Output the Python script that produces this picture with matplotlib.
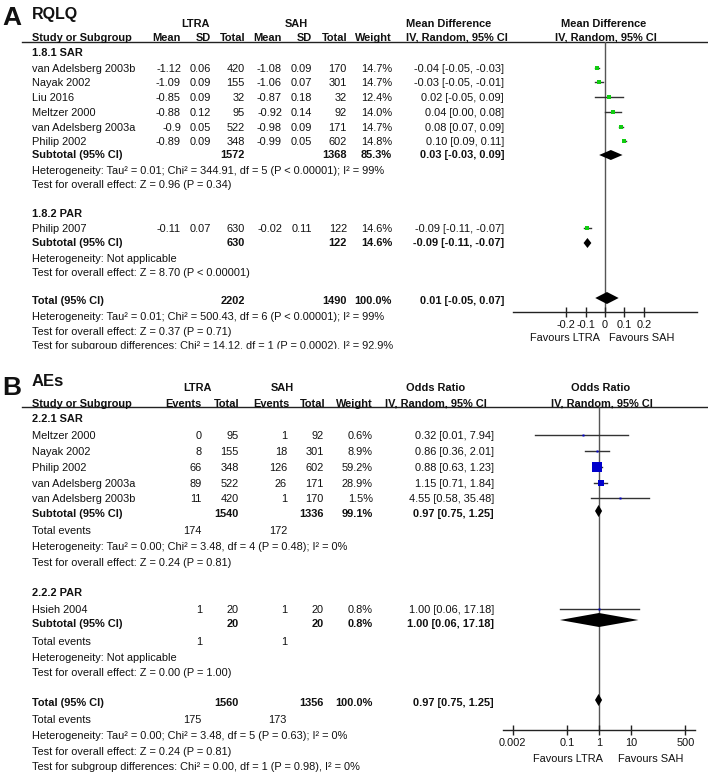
import matplotlib
matplotlib.use('Agg')
import matplotlib.pyplot as plt
import numpy as np
from matplotlib.patches import Rectangle

plt.rcParams['font.family'] = ['Liberation Sans', 'DejaVu Sans']

# ---- panel A: RQLQ, mean difference ----
a_sar_study = ['van Adelsberg 2003b', 'Nayak 2002', 'Liu 2016', 'Meltzer 2000',
               'van Adelsberg 2003a', 'Philip 2002']
a_sar_ltra_mean = ['-1.12', '-1.09', '-0.85', '-0.88', '-0.9', '-0.89']
a_sar_ltra_sd = ['0.06', '0.09', '0.09', '0.12', '0.05', '0.09']
a_sar_ltra_n = [420, 155, 32, 95, 522, 348]
a_sar_sah_mean = ['-1.08', '-1.06', '-0.87', '-0.92', '-0.98', '-0.99']
a_sar_sah_sd = ['0.09', '0.07', '0.18', '0.14', '0.09', '0.05']
a_sar_sah_n = [170, 301, 32, 92, 171, 602]
a_sar_weight = [14.7, 14.7, 12.4, 14.0, 14.7, 14.8]
a_sar_est = [-0.04, -0.03, 0.02, 0.04, 0.08, 0.10]
a_sar_lo = [-0.05, -0.05, -0.05, 0.00, 0.07, 0.09]
a_sar_hi = [-0.03, -0.01, 0.09, 0.08, 0.09, 0.11]
a_sar_sub = (0.03, -0.03, 0.09)

a_par_study = ['Philip 2007']
a_par_ltra_mean = ['-0.11']
a_par_ltra_sd = ['0.07']
a_par_ltra_n = [630]
a_par_sah_mean = ['-0.02']
a_par_sah_sd = ['0.11']
a_par_sah_n = [122]
a_par_weight = [14.6]
a_par_est = [-0.09]
a_par_lo = [-0.11]
a_par_hi = [-0.07]
a_par_sub = (-0.09, -0.11, -0.07)
a_total = (0.01, -0.05, 0.07)

# ---- panel B: AEs, odds ratio ----
b_sar_study = ['Meltzer 2000', 'Nayak 2002', 'Philip 2002', 'van Adelsberg 2003a',
               'van Adelsberg 2003b']
b_sar_ltra_ev = [0, 8, 66, 89, 11]
b_sar_ltra_n = [95, 155, 348, 522, 420]
b_sar_sah_ev = [1, 18, 126, 26, 1]
b_sar_sah_n = [92, 301, 602, 171, 170]
b_sar_weight = [0.6, 8.9, 59.2, 28.9, 1.5]
b_sar_est = [0.32, 0.86, 0.88, 1.15, 4.55]
b_sar_lo = [0.01, 0.36, 0.63, 0.71, 0.58]
b_sar_hi = [7.94, 2.01, 1.23, 1.84, 35.48]
b_sar_sub = (0.97, 0.75, 1.25)

b_par_study = ['Hsieh 2004']
b_par_ltra_ev = [1]
b_par_ltra_n = [20]
b_par_sah_ev = [1]
b_par_sah_n = [20]
b_par_weight = [0.8]
b_par_est = [1.00]
b_par_lo = [0.06]
b_par_hi = [17.18]
b_par_sub = (1.00, 0.06, 17.18)
b_total = (0.97, 0.75, 1.25)

a_ticks = [-0.2, -0.1, 0, 0.1, 0.2]
a_ticklabels = ['-0.2', '-0.1', '0', '0.1', '0.2']
b_ticks = [0.002, 0.1, 1, 10, 500]
b_ticklabels = ['0.002', '0.1', '1', '10', '500']

W, H = 708, 772
FS = 7.95
TXT = '#111111'
GREEN = '#11cc11'
BLUE = '#0000cc'

fig = plt.figure(figsize=(W / 100, H / 100), dpi=100)
ax = fig.add_axes([0, 0, 1, 1])
ax.set_xlim(0, W)
ax.set_ylim(H, 0)
ax.axis('off')


def txt(x, y, s, ha='left', bold=False, size=FS):
    # y is the visual centre of the row, text sits on baseline y + 4
    ax.text(x, y + 4, s, ha=ha, va='baseline', fontsize=size, color=TXT,
            fontweight='bold' if bold else 'normal')


def ci_str(t):
    return f'{t[0]:.2f} [{t[1]:.2f}, {t[2]:.2f}]'


def forest_axes(x0, x1, y0, y1):
    fa = fig.add_axes([x0 / W, 1 - y1 / H, (x1 - x0) / W, (y1 - y0) / H])
    fa.set_ylim(y1, y0)
    fa.patch.set_alpha(0)
    for s in ['left', 'right', 'top']:
        fa.spines[s].set_visible(False)
    fa.spines['bottom'].set_color('#222222')
    fa.spines['bottom'].set_linewidth(1.0)
    fa.set_yticks([])
    fa.tick_params(axis='x', direction='inout', length=7, width=1, color='#222222',
                   labelsize=FS, labelcolor=TXT, pad=2)
    return fa


def diamond(fa, y, t, h):
    fa.fill([t[1], t[0], t[2], t[0]], [y, y - h / 2, y, y + h / 2], color='black',
            lw=0, zorder=4)


# ================= Panel A =================
ax.text(2, 25, 'A', ha='left', va='baseline', fontsize=19, fontweight='bold', color=TXT)
ax.text(32, 19, 'RQLQ', ha='left', va='baseline', fontsize=11.5, fontweight='bold', color=TXT)
txt(196, 23, 'LTRA', ha='center', bold=True)
txt(296, 23, 'SAH', ha='center', bold=True)
txt(449, 23, 'Mean Difference', ha='center', bold=True)
txt(604, 23, 'Mean Difference', ha='center', bold=True)
hy = 37
txt(32, hy, 'Study or Subgroup', bold=True)
for x, s in [(181, 'Mean'), (211, 'SD'), (245, 'Total'), (282, 'Mean'),
             (312, 'SD'), (347, 'Total'), (392, 'Weight')]:
    txt(x, hy, s, ha='right', bold=True)
txt(457, hy, 'IV, Random, 95% CI', ha='center', bold=True)
txt(606, hy, 'IV, Random, 95% CI', ha='center', bold=True)
ax.plot([22, W], [42, 42], color='#222222', lw=1)

fa = forest_axes(513, 697, 42, 312)
fa.set_xlim(-0.472, 0.472)
fa.axvline(0, color='#555555', lw=1, zorder=1)
fa.set_xticks(a_ticks)
fa.set_xticklabels(a_ticklabels)


def a_rows(ys, study, lm, lsd, ln, sm, ssd, sn, w, est, lo, hi):
    for i, y in enumerate(ys):
        txt(32, y, study[i])
        txt(181, y, lm[i], ha='right')
        txt(211, y, lsd[i], ha='right')
        txt(245, y, str(ln[i]), ha='right')
        txt(282, y, sm[i], ha='right')
        txt(312, y, ssd[i], ha='right')
        txt(347, y, str(sn[i]), ha='right')
        txt(392, y, f'{w[i]:.1f}%', ha='right')
        txt(504, y, ci_str((est[i], lo[i], hi[i])), ha='right')
        fa.plot([lo[i], hi[i]], [y, y], color='#333333', lw=1, zorder=2)
        side = max(2.5, 4.2 * w[i] / 14.8)
        fa.plot(est[i], y, marker='s', ms=side / 1.39, color=GREEN, mew=0, zorder=3)


txt(32, 52, '1.8.1 SAR', bold=True)
a_rows([68, 82, 97, 112, 127, 141], a_sar_study, a_sar_ltra_mean, a_sar_ltra_sd,
       a_sar_ltra_n, a_sar_sah_mean, a_sar_sah_sd, a_sar_sah_n, a_sar_weight,
       a_sar_est, a_sar_lo, a_sar_hi)
txt(32, 154, 'Subtotal (95% CI)', bold=True)
txt(245, 154, str(sum(a_sar_ltra_n)), ha='right', bold=True)
txt(347, 154, str(sum(a_sar_sah_n)), ha='right', bold=True)
txt(392, 154, f'{sum(a_sar_weight):.1f}%', ha='right', bold=True)
txt(504, 154, ci_str(a_sar_sub), ha='right', bold=True)
diamond(fa, 155, a_sar_sub, 10)
txt(32, 170, 'Heterogeneity: Tau² = 0.01; Chi² = 344.91, df = 5 (P < 0.00001); I² = 99%')
txt(32, 184, 'Test for overall effect: Z = 0.96 (P = 0.34)')

txt(32, 213, '1.8.2 PAR', bold=True)
a_rows([228], a_par_study, a_par_ltra_mean, a_par_ltra_sd, a_par_ltra_n,
       a_par_sah_mean, a_par_sah_sd, a_par_sah_n, a_par_weight,
       a_par_est, a_par_lo, a_par_hi)
txt(32, 242, 'Subtotal (95% CI)', bold=True)
txt(245, 242, str(sum(a_par_ltra_n)), ha='right', bold=True)
txt(347, 242, str(sum(a_par_sah_n)), ha='right', bold=True)
txt(392, 242, f'{sum(a_par_weight):.1f}%', ha='right', bold=True)
txt(504, 242, ci_str(a_par_sub), ha='right', bold=True)
diamond(fa, 243, a_par_sub, 10)
txt(32, 258, 'Heterogeneity: Not applicable')
txt(32, 272, 'Test for overall effect: Z = 8.70 (P < 0.00001)')

txt(32, 300, 'Total (95% CI)', bold=True)
txt(245, 300, str(sum(a_sar_ltra_n) + sum(a_par_ltra_n)), ha='right', bold=True)
txt(347, 300, str(sum(a_sar_sah_n) + sum(a_par_sah_n)), ha='right', bold=True)
txt(392, 300, '100.0%', ha='right', bold=True)
txt(504, 300, ci_str(a_total), ha='right', bold=True)
diamond(fa, 298, a_total, 12)
txt(32, 316, 'Heterogeneity: Tau² = 0.01; Chi² = 500.43, df = 6 (P < 0.00001); I² = 99%')
txt(32, 331, 'Test for overall effect: Z = 0.37 (P = 0.71)')
txt(32, 345, 'Test for subgroup differences: Chi² = 14.12, df = 1 (P = 0.0002), I² = 92.9%')
txt(565, 337, 'Favours LTRA', ha='center')
txt(642, 337, 'Favours SAH', ha='center')
ax.add_patch(Rectangle((0, 349), 520, 14, color='white', zorder=5))

# ================= Panel B =================
ax.text(2, 395, 'B', ha='left', va='baseline', fontsize=19, fontweight='bold', color=TXT)
ax.text(32, 386, 'AEs', ha='left', va='baseline', fontsize=12, fontweight='bold', color=TXT)
txt(197, 387, 'LTRA', ha='center', bold=True)
txt(282, 387, 'SAH', ha='center', bold=True)
txt(436, 387, 'Odds Ratio', ha='center', bold=True)
txt(601, 387, 'Odds Ratio', ha='center', bold=True)
hy = 403
txt(32, hy, 'Study or Subgroup', bold=True)
for x, s in [(202, 'Events'), (239, 'Total'), (289, 'Events'), (325, 'Total'),
             (373, 'Weight')]:
    txt(x, hy, s, ha='right', bold=True)
txt(436, hy, 'IV, Random, 95% CI', ha='center', bold=True)
txt(602, hy, 'IV, Random, 95% CI', ha='center', bold=True)
ax.plot([22, W], [407, 407], color='#222222', lw=1)

fb = forest_axes(503, 695, 407, 730)
fb.set_xscale('log')
fb.set_xlim(1e-3, 1e3)
fb.axvline(1, color='#555555', lw=1, zorder=1)
fb.set_xticks(b_ticks)
fb.set_xticklabels(b_ticklabels)
fb.xaxis.set_minor_locator(matplotlib.ticker.NullLocator())


def b_rows(ys, study, le, ln, se, sn, w, est, lo, hi):
    for i, y in enumerate(ys):
        txt(32, y, study[i])
        txt(202, y, str(le[i]), ha='right')
        txt(239, y, str(ln[i]), ha='right')
        txt(287, y, str(se[i]), ha='right')
        txt(324, y, str(sn[i]), ha='right')
        txt(373, y, f'{w[i]:.1f}%', ha='right')
        txt(494, y, ci_str((est[i], lo[i], hi[i])), ha='right')
        fb.plot([lo[i], hi[i]], [y, y], color='#333333', lw=1, zorder=2)
        side = max(2.0, 11.0 * w[i] / 59.2)
        fb.plot(est[i], y, marker='s', ms=side / 1.39, color=BLUE, mew=0, zorder=3)


txt(32, 418, '2.2.1 SAR', bold=True)
b_rows([435, 451, 467, 483, 498], b_sar_study, b_sar_ltra_ev, b_sar_ltra_n,
       b_sar_sah_ev, b_sar_sah_n, b_sar_weight, b_sar_est, b_sar_lo, b_sar_hi)
txt(32, 513, 'Subtotal (95% CI)', bold=True)
txt(239, 513, str(sum(b_sar_ltra_n)), ha='right', bold=True)
txt(324, 513, str(sum(b_sar_sah_n)), ha='right', bold=True)
txt(373, 513, f'{sum(b_sar_weight):.1f}%', ha='right', bold=True)
txt(494, 513, ci_str(b_sar_sub), ha='right', bold=True)
diamond(fb, 511, b_sar_sub, 12)
txt(32, 530, 'Total events')
txt(202, 530, str(sum(b_sar_ltra_ev)), ha='right')
txt(287, 530, str(sum(b_sar_sah_ev)), ha='right')
txt(32, 546, 'Heterogeneity: Tau² = 0.00; Chi² = 3.48, df = 4 (P = 0.48); I² = 0%')
txt(32, 562, 'Test for overall effect: Z = 0.24 (P = 0.81)')

txt(32, 592, '2.2.2 PAR', bold=True)
b_rows([609], b_par_study, b_par_ltra_ev, b_par_ltra_n, b_par_sah_ev, b_par_sah_n,
       b_par_weight, b_par_est, b_par_lo, b_par_hi)
txt(32, 623, 'Subtotal (95% CI)', bold=True)
txt(239, 623, str(sum(b_par_ltra_n)), ha='right', bold=True)
txt(324, 623, str(sum(b_par_sah_n)), ha='right', bold=True)
txt(373, 623, f'{sum(b_par_weight):.1f}%', ha='right', bold=True)
txt(494, 623, ci_str(b_par_sub), ha='right', bold=True)
diamond(fb, 620, b_par_sub, 14)
txt(32, 641, 'Total events')
txt(202, 641, str(sum(b_par_ltra_ev)), ha='right')
txt(287, 641, str(sum(b_par_sah_ev)), ha='right')
txt(32, 657, 'Heterogeneity: Not applicable')
txt(32, 672, 'Test for overall effect: Z = 0.00 (P = 1.00)')

txt(32, 702, 'Total (95% CI)', bold=True)
txt(239, 702, str(sum(b_sar_ltra_n) + sum(b_par_ltra_n)), ha='right', bold=True)
txt(324, 702, str(sum(b_sar_sah_n) + sum(b_par_sah_n)), ha='right', bold=True)
txt(373, 702, '100.0%', ha='right', bold=True)
txt(494, 702, ci_str(b_total), ha='right', bold=True)
diamond(fb, 700, b_total, 12)
txt(32, 719, 'Total events')
txt(202, 719, str(sum(b_sar_ltra_ev) + sum(b_par_ltra_ev)), ha='right')
txt(287, 719, str(sum(b_sar_sah_ev) + sum(b_par_sah_ev)), ha='right')
txt(32, 735, 'Heterogeneity: Tau² = 0.00; Chi² = 3.48, df = 5 (P = 0.63); I² = 0%')
txt(32, 751, 'Test for overall effect: Z = 0.24 (P = 0.81)')
txt(32, 766, 'Test for subgroup differences: Chi² = 0.00, df = 1 (P = 0.98), I² = 0%')
txt(568, 758, 'Favours LTRA', ha='center')
txt(651, 758, 'Favours SAH', ha='center')

fig.savefig('out.png', dpi=100)
